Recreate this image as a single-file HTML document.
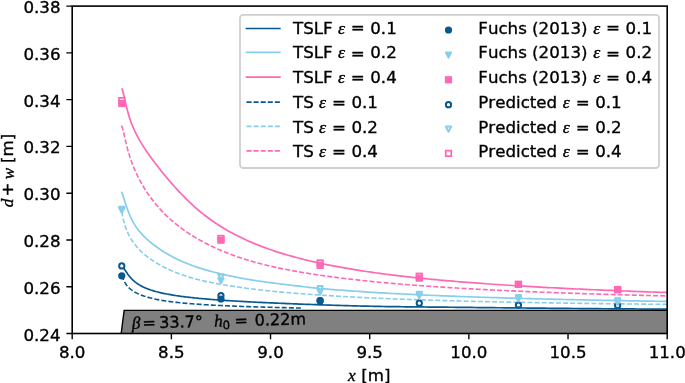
<!DOCTYPE html>
<html><head><meta charset="utf-8"><title>chart</title><style>html,body{margin:0;padding:0;background:#fff;}body{width:685px;height:383px;overflow:hidden;position:relative}</style></head><body>
<svg width="685" height="383" viewBox="0 0 685 383" style="display:block;position:absolute;left:0;top:0">
<rect x="0" y="0" width="685" height="383" fill="#fff"/>
<defs><clipPath id="ax"><rect x="72.2" y="6.1" width="595.0" height="327.4"/></clipPath></defs>
<g clip-path="url(#ax)">
<path d="M120.93,335.5 L124.16,310.41 L672.2,310.41 L672.2,335.5 Z" fill="#808080" stroke="#000" stroke-width="1.4" stroke-linejoin="miter"/>
<path d="M121.90,265.59 L121.90,265.59 L121.91,265.60 L121.93,265.62 L121.96,265.64 L121.99,265.68 L122.04,265.72 L122.09,265.78 L122.16,265.85 L122.24,265.93 L122.33,266.03 L122.43,266.15 L122.54,266.29 L122.66,266.45 L122.79,266.63 L122.94,266.83 L123.10,267.06 L123.27,267.31 L123.45,267.58 L123.65,267.88 L123.86,268.21 L124.08,268.56 L124.32,268.93 L124.56,269.32 L124.82,269.73 L125.10,270.17 L125.39,270.62 L125.69,271.09 L126.01,271.57 L126.33,272.07 L126.68,272.58 L127.04,273.10 L127.41,273.63 L127.79,274.16 L128.19,274.70 L128.61,275.24 L129.04,275.79 L129.48,276.33 L129.94,276.88 L130.41,277.43 L130.90,277.97 L131.40,278.51 L131.92,279.04 L132.45,279.57 L133.00,280.10 L133.56,280.61 L134.14,281.12 L134.73,281.62 L135.34,282.11 L135.96,282.60 L136.60,283.07 L137.26,283.54 L137.93,283.99 L138.61,284.44 L139.31,284.88 L140.03,285.30 L140.76,285.72 L141.51,286.13 L142.28,286.52 L143.06,286.91 L143.85,287.29 L144.67,287.65 L145.50,288.01 L146.34,288.37 L147.20,288.71 L148.08,289.04 L148.98,289.37 L149.89,289.69 L150.81,290.01 L151.76,290.31 L152.72,290.61 L153.70,290.91 L154.69,291.20 L155.70,291.48 L156.73,291.76 L157.77,292.03 L158.83,292.29 L159.91,292.56 L161.00,292.81 L162.11,293.06 L163.24,293.31 L164.39,293.55 L165.55,293.78 L166.73,294.01 L167.93,294.24 L169.14,294.46 L170.37,294.68 L171.62,294.90 L172.89,295.11 L174.17,295.31 L175.47,295.52 L176.79,295.72 L178.13,295.91 L179.48,296.10 L180.85,296.29 L182.24,296.48 L183.64,296.66 L185.07,296.84 L186.51,297.01 L187.97,297.19 L189.45,297.36 L190.94,297.52 L192.45,297.69 L193.98,297.85 L195.53,298.01 L197.10,298.17 L198.68,298.32 L200.29,298.48 L201.91,298.63 L203.55,298.77 L205.20,298.92 L206.88,299.06 L208.57,299.21 L210.28,299.35 L212.01,299.48 L213.76,299.62 L215.53,299.75 L217.31,299.89 L219.12,300.02 L220.94,300.15 L222.78,300.27 L224.64,300.40 L226.51,300.53 L228.41,300.65 L230.32,300.77 L232.26,300.89 L234.21,301.01 L236.18,301.13 L238.17,301.24 L240.18,301.36 L242.20,301.47 L244.25,301.58 L246.31,301.69 L248.40,301.80 L250.50,301.91 L252.62,302.02 L254.76,302.13 L256.92,302.23 L259.09,302.34 L261.29,302.44 L263.51,302.55 L265.74,302.65 L267.99,302.75 L270.27,302.85 L272.56,302.95 L274.87,303.05 L277.20,303.15 L279.55,303.25 L281.92,303.35 L284.31,303.45 L286.72,303.55 L289.14,303.65 L291.59,303.74 L294.06,303.84 L296.54,303.94 L299.05,304.03 L301.57,304.13 L304.11,304.23 L306.68,304.32 L309.26,304.42 L311.86,304.51 L314.48,304.61 L317.12,304.70 L319.79,304.79 L322.47,304.88 L325.17,304.98 L327.89,305.07 L330.63,305.16 L333.39,305.25 L336.16,305.33 L338.96,305.42 L341.78,305.50 L344.62,305.59 L347.48,305.67 L350.36,305.75 L353.26,305.83 L356.18,305.90 L359.11,305.98 L362.07,306.05 L365.05,306.12 L368.05,306.18 L371.07,306.25 L374.11,306.31 L377.17,306.37 L380.24,306.42 L383.34,306.48 L386.46,306.53 L389.60,306.58 L392.76,306.62 L395.94,306.67 L399.14,306.71 L402.36,306.75 L405.60,306.79 L408.86,306.83 L412.14,306.87 L415.45,306.90 L418.77,306.94 L422.11,306.97 L425.47,307.00 L428.86,307.04 L432.26,307.07 L435.68,307.10 L439.13,307.14 L442.59,307.17 L446.08,307.20 L449.59,307.24 L453.11,307.27 L456.66,307.31 L460.23,307.34 L463.82,307.38 L467.43,307.42 L471.06,307.45 L474.71,307.49 L478.38,307.53 L482.07,307.57 L485.79,307.61 L489.52,307.65 L493.27,307.69 L497.05,307.73 L500.85,307.77 L504.66,307.81 L508.50,307.85 L512.36,307.89 L516.24,307.93 L520.14,307.97 L524.06,308.01 L528.01,308.06 L531.97,308.10 L535.95,308.14 L539.96,308.18 L543.99,308.21 L548.03,308.25 L552.10,308.29 L556.19,308.33 L560.30,308.37 L564.44,308.41 L568.59,308.44 L572.77,308.48 L576.96,308.52 L581.18,308.56 L585.42,308.59 L589.68,308.63 L593.96,308.66 L598.26,308.70 L602.58,308.73 L606.93,308.77 L611.29,308.80 L615.68,308.84 L620.09,308.87 L624.52,308.90 L628.97,308.94 L633.44,308.97 L637.94,309.00 L642.45,309.03 L646.99,309.07 L651.55,309.10 L656.13,309.13 L660.73,309.16 L665.36,309.19 L670.00,309.22" fill="none" stroke="#07598f" stroke-width="1.7" stroke-linejoin="round" stroke-linecap="butt"/>
<path d="M121.50,191.75 L121.50,191.76 L121.51,191.78 L121.53,191.81 L121.56,191.86 L121.59,191.93 L121.64,192.02 L121.69,192.13 L121.76,192.28 L121.84,192.45 L121.93,192.66 L122.03,192.90 L122.14,193.18 L122.26,193.50 L122.39,193.87 L122.54,194.29 L122.70,194.75 L122.87,195.26 L123.05,195.83 L123.25,196.44 L123.46,197.10 L123.68,197.81 L123.92,198.57 L124.17,199.37 L124.43,200.21 L124.70,201.09 L124.99,202.01 L125.29,202.96 L125.61,203.94 L125.94,204.94 L126.28,205.97 L126.64,207.02 L127.01,208.08 L127.40,209.16 L127.80,210.25 L128.21,211.34 L128.64,212.43 L129.09,213.53 L129.54,214.63 L130.02,215.72 L130.50,216.81 L131.01,217.88 L131.52,218.95 L132.06,220.01 L132.60,221.06 L133.17,222.09 L133.75,223.11 L134.34,224.11 L134.95,225.09 L135.57,226.06 L136.21,227.01 L136.87,227.94 L137.54,228.86 L138.22,229.77 L138.93,230.66 L139.64,231.54 L140.38,232.41 L141.13,233.27 L141.89,234.12 L142.67,234.96 L143.47,235.80 L144.28,236.62 L145.11,237.44 L145.96,238.25 L146.82,239.05 L147.70,239.85 L148.60,240.64 L149.51,241.42 L150.44,242.20 L151.38,242.98 L152.34,243.75 L153.32,244.51 L154.31,245.27 L155.32,246.03 L156.35,246.78 L157.40,247.52 L158.46,248.27 L159.54,249.00 L160.63,249.74 L161.74,250.46 L162.87,251.19 L164.02,251.91 L165.18,252.62 L166.36,253.33 L167.56,254.03 L168.78,254.73 L170.01,255.42 L171.26,256.11 L172.52,256.79 L173.81,257.46 L175.11,258.13 L176.43,258.78 L177.77,259.43 L179.12,260.07 L180.49,260.71 L181.88,261.33 L183.29,261.95 L184.71,262.55 L186.16,263.15 L187.62,263.74 L189.10,264.32 L190.59,264.89 L192.11,265.45 L193.64,266.01 L195.19,266.55 L196.75,267.09 L198.34,267.61 L199.94,268.13 L201.57,268.64 L203.21,269.15 L204.86,269.64 L206.54,270.13 L208.24,270.61 L209.95,271.08 L211.68,271.55 L213.43,272.00 L215.20,272.46 L216.98,272.91 L218.79,273.35 L220.61,273.78 L222.45,274.21 L224.31,274.64 L226.19,275.06 L228.09,275.47 L230.00,275.88 L231.94,276.29 L233.89,276.69 L235.86,277.08 L237.85,277.47 L239.86,277.86 L241.89,278.24 L243.94,278.61 L246.00,278.98 L248.09,279.34 L250.19,279.70 L252.31,280.04 L254.45,280.39 L256.61,280.72 L258.79,281.05 L260.99,281.37 L263.21,281.69 L265.45,282.00 L267.70,282.31 L269.98,282.61 L272.27,282.90 L274.58,283.20 L276.92,283.49 L279.27,283.78 L281.64,284.07 L284.03,284.36 L286.44,284.65 L288.87,284.95 L291.31,285.25 L293.78,285.54 L296.27,285.84 L298.77,286.13 L301.30,286.43 L303.85,286.72 L306.41,287.00 L309.00,287.29 L311.60,287.56 L314.22,287.83 L316.87,288.10 L319.53,288.35 L322.21,288.60 L324.91,288.85 L327.64,289.09 L330.38,289.32 L333.14,289.55 L335.92,289.78 L338.72,290.00 L341.54,290.22 L344.38,290.43 L347.25,290.64 L350.13,290.85 L353.03,291.06 L355.95,291.26 L358.89,291.46 L361.85,291.66 L364.83,291.85 L367.83,292.04 L370.85,292.23 L373.89,292.42 L376.95,292.60 L380.03,292.78 L383.13,292.96 L386.26,293.14 L389.40,293.31 L392.56,293.48 L395.74,293.65 L398.94,293.82 L402.17,293.98 L405.41,294.15 L408.67,294.31 L411.96,294.47 L415.26,294.62 L418.58,294.78 L421.93,294.93 L425.29,295.08 L428.68,295.23 L432.09,295.37 L435.51,295.52 L438.96,295.66 L442.43,295.80 L445.92,295.94 L449.43,296.08 L452.96,296.21 L456.51,296.35 L460.08,296.48 L463.67,296.61 L467.28,296.74 L470.91,296.87 L474.57,296.99 L478.24,297.12 L481.94,297.24 L485.65,297.36 L489.39,297.48 L493.15,297.60 L496.92,297.71 L500.72,297.83 L504.54,297.94 L508.38,298.05 L512.25,298.17 L516.13,298.28 L520.03,298.38 L523.96,298.49 L527.90,298.60 L531.87,298.70 L535.86,298.80 L539.86,298.91 L543.89,299.01 L547.95,299.11 L552.02,299.20 L556.11,299.30 L560.22,299.40 L564.36,299.49 L568.52,299.59 L572.69,299.68 L576.89,299.77 L581.11,299.86 L585.35,299.95 L589.62,300.04 L593.90,300.13 L598.21,300.21 L602.53,300.30 L606.88,300.38 L611.25,300.47 L615.64,300.55 L620.05,300.63 L624.49,300.71 L628.94,300.79 L633.42,300.87 L637.91,300.95 L642.43,301.03 L646.97,301.10 L651.54,301.18 L656.12,301.26 L660.73,301.33 L665.35,301.40 L670.00,301.47" fill="none" stroke="#87ceeb" stroke-width="1.7" stroke-linejoin="round" stroke-linecap="butt"/>
<path d="M121.70,88.53 L121.70,88.54 L121.71,88.55 L121.73,88.57 L121.76,88.60 L121.79,88.64 L121.84,88.71 L121.89,88.80 L121.96,88.91 L122.04,89.06 L122.13,89.26 L122.23,89.49 L122.34,89.78 L122.46,90.14 L122.59,90.55 L122.74,91.03 L122.90,91.59 L123.07,92.22 L123.25,92.93 L123.45,93.71 L123.66,94.58 L123.88,95.51 L124.12,96.53 L124.36,97.61 L124.63,98.75 L124.90,99.96 L125.19,101.22 L125.49,102.53 L125.81,103.88 L126.14,105.27 L126.48,106.69 L126.84,108.13 L127.21,109.59 L127.60,111.06 L128.00,112.54 L128.41,114.02 L128.84,115.49 L129.28,116.94 L129.74,118.39 L130.21,119.81 L130.70,121.21 L131.20,122.59 L131.72,123.95 L132.25,125.29 L132.80,126.61 L133.36,127.92 L133.94,129.22 L134.53,130.51 L135.14,131.79 L135.77,133.06 L136.41,134.33 L137.06,135.59 L137.73,136.85 L138.42,138.10 L139.12,139.36 L139.84,140.61 L140.57,141.86 L141.32,143.12 L142.08,144.37 L142.87,145.63 L143.66,146.89 L144.48,148.15 L145.31,149.41 L146.15,150.68 L147.01,151.95 L147.89,153.23 L148.79,154.51 L149.70,155.80 L150.63,157.09 L151.57,158.39 L152.53,159.70 L153.51,161.01 L154.50,162.33 L155.51,163.67 L156.54,165.01 L157.58,166.35 L158.64,167.71 L159.72,169.08 L160.82,170.45 L161.93,171.83 L163.06,173.22 L164.20,174.62 L165.37,176.02 L166.55,177.43 L167.74,178.85 L168.96,180.27 L170.19,181.70 L171.44,183.13 L172.71,184.57 L173.99,186.02 L175.29,187.46 L176.61,188.91 L177.95,190.37 L179.30,191.82 L180.67,193.28 L182.06,194.73 L183.47,196.18 L184.89,197.62 L186.33,199.06 L187.79,200.49 L189.27,201.92 L190.77,203.33 L192.28,204.74 L193.81,206.13 L195.36,207.51 L196.93,208.88 L198.51,210.23 L200.12,211.57 L201.74,212.90 L203.38,214.21 L205.03,215.51 L206.71,216.79 L208.40,218.05 L210.12,219.30 L211.85,220.53 L213.60,221.75 L215.36,222.95 L217.15,224.13 L218.95,225.30 L220.77,226.45 L222.62,227.59 L224.47,228.71 L226.35,229.81 L228.25,230.90 L230.16,231.97 L232.10,233.03 L234.05,234.07 L236.02,235.09 L238.01,236.10 L240.02,237.10 L242.05,238.08 L244.09,239.05 L246.16,240.00 L248.24,240.93 L250.34,241.85 L252.47,242.76 L254.61,243.65 L256.77,244.53 L258.94,245.40 L261.14,246.25 L263.36,247.09 L265.59,247.92 L267.85,248.73 L270.12,249.53 L272.41,250.32 L274.73,251.09 L277.06,251.86 L279.41,252.61 L281.78,253.35 L284.17,254.07 L286.58,254.79 L289.00,255.49 L291.45,256.19 L293.92,256.87 L296.40,257.54 L298.91,258.20 L301.44,258.85 L303.98,259.49 L306.54,260.12 L309.13,260.74 L311.73,261.35 L314.35,261.95 L317.00,262.54 L319.66,263.12 L322.34,263.70 L325.04,264.26 L327.76,264.81 L330.50,265.36 L333.26,265.90 L336.04,266.42 L338.84,266.94 L341.66,267.46 L344.50,267.96 L347.36,268.46 L350.24,268.95 L353.14,269.43 L356.06,269.90 L359.00,270.37 L361.96,270.83 L364.94,271.28 L367.94,271.72 L370.96,272.16 L374.00,272.59 L377.06,273.02 L380.14,273.44 L383.24,273.85 L386.36,274.25 L389.50,274.65 L392.66,275.05 L395.84,275.43 L399.04,275.82 L402.26,276.19 L405.51,276.56 L408.77,276.93 L412.05,277.29 L415.35,277.64 L418.68,277.99 L422.02,278.33 L425.38,278.67 L428.77,279.00 L432.17,279.33 L435.60,279.66 L439.05,279.98 L442.51,280.29 L446.00,280.60 L449.51,280.91 L453.03,281.21 L456.58,281.51 L460.15,281.80 L463.74,282.09 L467.35,282.37 L470.99,282.65 L474.64,282.93 L478.31,283.20 L482.00,283.47 L485.72,283.74 L489.45,284.00 L493.21,284.26 L496.99,284.52 L500.78,284.77 L504.60,285.02 L508.44,285.26 L512.30,285.50 L516.18,285.74 L520.09,285.98 L524.01,286.21 L527.95,286.44 L531.92,286.67 L535.91,286.89 L539.91,287.11 L543.94,287.33 L547.99,287.54 L552.06,287.76 L556.15,287.97 L560.26,288.17 L564.40,288.38 L568.55,288.58 L572.73,288.78 L576.93,288.98 L581.15,289.17 L585.39,289.36 L589.65,289.55 L593.93,289.74 L598.23,289.93 L602.56,290.11 L606.90,290.29 L611.27,290.47 L615.66,290.65 L620.07,290.82 L624.50,290.99 L628.96,291.16 L633.43,291.33 L637.93,291.50 L642.44,291.66 L646.98,291.82 L651.54,291.98 L656.12,292.14 L660.73,292.30 L665.35,292.45 L670.00,292.61" fill="none" stroke="#ff69b4" stroke-width="1.7" stroke-linejoin="round" stroke-linecap="butt"/>
<path d="M121.90,275.27 L121.90,275.28 L121.91,275.32 L121.93,275.38 L121.96,275.47 L121.99,275.59 L122.04,275.74 L122.09,275.93 L122.16,276.14 L122.24,276.38 L122.33,276.66 L122.43,276.95 L122.54,277.28 L122.66,277.63 L122.79,277.99 L122.94,278.38 L123.10,278.79 L123.27,279.21 L123.45,279.64 L123.65,280.08 L123.86,280.53 L124.08,280.99 L124.32,281.46 L124.56,281.92 L124.82,282.39 L125.10,282.86 L125.39,283.33 L125.69,283.80 L126.01,284.26 L126.33,284.72 L126.68,285.18 L127.04,285.63 L127.41,286.08 L127.79,286.52 L128.19,286.96 L128.61,287.39 L129.04,287.81 L129.48,288.23 L129.94,288.64 L130.41,289.04 L130.90,289.44 L131.40,289.83 L131.92,290.21 L132.45,290.58 L133.00,290.95 L133.56,291.31 L134.14,291.67 L134.73,292.02 L135.34,292.36 L135.96,292.70 L136.60,293.03 L137.26,293.36 L137.93,293.67 L138.61,293.99 L139.31,294.30 L140.03,294.60 L140.76,294.90 L141.51,295.19 L142.28,295.48 L143.06,295.76 L143.85,296.04 L144.67,296.31 L145.50,296.58 L146.34,296.84 L147.20,297.10 L148.08,297.36 L148.98,297.61 L149.89,297.85 L150.81,298.09 L151.76,298.33 L152.72,298.56 L153.70,298.79 L154.69,299.01 L155.70,299.23 L156.73,299.44 L157.77,299.65 L158.83,299.85 L159.91,300.05 L161.00,300.24 L162.11,300.43 L163.24,300.62 L164.39,300.80 L165.55,300.98 L166.73,301.15 L167.93,301.32 L169.14,301.49 L170.37,301.65 L171.62,301.81 L172.89,301.96 L174.17,302.11 L175.47,302.26 L176.79,302.41 L178.13,302.55 L179.48,302.69 L180.85,302.82 L182.24,302.96 L183.64,303.09 L185.07,303.22 L186.51,303.34 L187.97,303.47 L189.45,303.59 L190.94,303.71 L192.45,303.82 L193.98,303.94 L195.53,304.05 L197.10,304.16 L198.68,304.27 L200.29,304.38 L201.91,304.48 L203.55,304.59 L205.20,304.69 L206.88,304.79 L208.57,304.89 L210.28,304.99 L212.01,305.08 L213.76,305.18 L215.53,305.27 L217.31,305.36 L219.12,305.45 L220.94,305.54 L222.78,305.63 L224.64,305.71 L226.51,305.80 L228.41,305.88 L230.32,305.96 L232.26,306.04 L234.21,306.12 L236.18,306.20 L238.17,306.28 L240.18,306.36 L242.20,306.43 L244.25,306.50 L246.31,306.58 L248.40,306.65 L250.50,306.72 L252.62,306.79 L254.76,306.86 L256.92,306.93 L259.09,306.99 L261.29,307.06 L263.51,307.12 L265.74,307.19 L267.99,307.25 L270.27,307.31 L272.56,307.37 L274.87,307.43 L277.20,307.49 L279.55,307.55 L281.92,307.61 L284.31,307.67 L286.72,307.72 L289.14,307.78 L291.59,307.83 L294.06,307.89 L296.54,307.94 L299.05,308.00 L301.57,308.05" fill="none" stroke="#07598f" stroke-width="1.6" stroke-linejoin="round" stroke-dasharray="5.0 2.1"/>
<path d="M121.70,211.49 L121.70,211.51 L121.71,211.56 L121.73,211.67 L121.76,211.83 L121.79,212.04 L121.84,212.31 L121.89,212.63 L121.96,213.01 L122.04,213.44 L122.13,213.92 L122.23,214.44 L122.34,215.02 L122.46,215.63 L122.59,216.29 L122.74,216.98 L122.90,217.71 L123.07,218.46 L123.25,219.24 L123.45,220.05 L123.66,220.87 L123.88,221.71 L124.12,222.57 L124.36,223.43 L124.63,224.31 L124.90,225.19 L125.19,226.08 L125.49,226.97 L125.81,227.86 L126.14,228.75 L126.48,229.65 L126.84,230.53 L127.21,231.42 L127.60,232.30 L128.00,233.18 L128.41,234.06 L128.84,234.92 L129.28,235.78 L129.74,236.64 L130.21,237.49 L130.70,238.33 L131.20,239.16 L131.72,239.99 L132.25,240.81 L132.80,241.62 L133.36,242.42 L133.94,243.22 L134.53,244.01 L135.14,244.80 L135.77,245.58 L136.41,246.35 L137.06,247.11 L137.73,247.87 L138.42,248.62 L139.12,249.36 L139.84,250.10 L140.57,250.83 L141.32,251.56 L142.08,252.28 L142.87,252.99 L143.66,253.70 L144.48,254.40 L145.31,255.09 L146.15,255.78 L147.01,256.47 L147.89,257.14 L148.79,257.82 L149.70,258.48 L150.63,259.14 L151.57,259.80 L152.53,260.45 L153.51,261.09 L154.50,261.73 L155.51,262.36 L156.54,262.99 L157.58,263.61 L158.64,264.23 L159.72,264.84 L160.82,265.45 L161.93,266.05 L163.06,266.64 L164.20,267.23 L165.37,267.81 L166.55,268.39 L167.74,268.96 L168.96,269.53 L170.19,270.09 L171.44,270.64 L172.71,271.19 L173.99,271.73 L175.29,272.26 L176.61,272.78 L177.95,273.30 L179.30,273.81 L180.67,274.32 L182.06,274.81 L183.47,275.30 L184.89,275.78 L186.33,276.25 L187.79,276.71 L189.27,277.16 L190.77,277.61 L192.28,278.05 L193.81,278.47 L195.36,278.89 L196.93,279.30 L198.51,279.71 L200.12,280.10 L201.74,280.49 L203.38,280.87 L205.03,281.24 L206.71,281.61 L208.40,281.96 L210.12,282.31 L211.85,282.66 L213.60,283.00 L215.36,283.33 L217.15,283.66 L218.95,283.99 L220.77,284.31 L222.62,284.62 L224.47,284.93 L226.35,285.24 L228.25,285.55 L230.16,285.85 L232.10,286.15 L234.05,286.45 L236.02,286.74 L238.01,287.04 L240.02,287.32 L242.05,287.61 L244.09,287.89 L246.16,288.17 L248.24,288.45 L250.34,288.72 L252.47,288.99 L254.61,289.25 L256.77,289.51 L258.94,289.77 L261.14,290.02 L263.36,290.27 L265.59,290.51 L267.85,290.75 L270.12,290.98 L272.41,291.21 L274.73,291.44 L277.06,291.66 L279.41,291.88 L281.78,292.10 L284.17,292.31 L286.58,292.52 L289.00,292.73 L291.45,292.94 L293.92,293.14 L296.40,293.34 L298.91,293.54 L301.44,293.73 L303.98,293.93 L306.54,294.12 L309.13,294.31 L311.73,294.49 L314.35,294.68 L317.00,294.86 L319.66,295.04 L322.34,295.22 L325.04,295.40 L327.76,295.57 L330.50,295.74 L333.26,295.91 L336.04,296.08 L338.84,296.24 L341.66,296.41 L344.50,296.57 L347.36,296.72 L350.24,296.88 L353.14,297.03 L356.06,297.18 L359.00,297.33 L361.96,297.48 L364.94,297.62 L367.94,297.77 L370.96,297.91 L374.00,298.04 L377.06,298.18 L380.14,298.31 L383.24,298.44 L386.36,298.57 L389.50,298.70 L392.66,298.83 L395.84,298.95 L399.04,299.07 L402.26,299.20 L405.51,299.31 L408.77,299.43 L412.05,299.55 L415.35,299.66 L418.68,299.77 L422.02,299.88 L425.38,299.99 L428.77,300.10 L432.17,300.20 L435.60,300.31 L439.05,300.41 L442.51,300.51 L446.00,300.61 L449.51,300.71 L453.03,300.81 L456.58,300.90 L460.15,301.00 L463.74,301.09 L467.35,301.18 L470.99,301.27 L474.64,301.36 L478.31,301.45 L482.00,301.53 L485.72,301.62 L489.45,301.70 L493.21,301.78 L496.99,301.87 L500.78,301.95 L504.60,302.03 L508.44,302.10 L512.30,302.18 L516.18,302.26 L520.09,302.33 L524.01,302.41 L527.95,302.48 L531.92,302.55 L535.91,302.62 L539.91,302.69 L543.94,302.76 L547.99,302.83 L552.06,302.90 L556.15,302.96 L560.26,303.03 L564.40,303.09 L568.55,303.16 L572.73,303.22 L576.93,303.28 L581.15,303.34 L585.39,303.40 L589.65,303.46 L593.93,303.52 L598.23,303.58 L602.56,303.64 L606.90,303.69 L611.27,303.75 L615.66,303.80 L620.07,303.86 L624.50,303.91 L628.96,303.96 L633.43,304.02 L637.93,304.07 L642.44,304.12 L646.98,304.17 L651.54,304.22 L656.12,304.27 L660.73,304.32 L665.35,304.36 L670.00,304.41" fill="none" stroke="#87ceeb" stroke-width="1.6" stroke-linejoin="round" stroke-dasharray="5.0 2.1"/>
<path d="M121.50,125.79 L121.50,125.80 L121.51,125.81 L121.53,125.82 L121.56,125.85 L121.59,125.90 L121.64,125.96 L121.69,126.04 L121.76,126.16 L121.84,126.30 L121.93,126.49 L122.03,126.72 L122.14,127.01 L122.26,127.36 L122.39,127.77 L122.54,128.26 L122.70,128.81 L122.87,129.44 L123.05,130.15 L123.25,130.94 L123.46,131.81 L123.68,132.75 L123.92,133.77 L124.17,134.85 L124.43,136.01 L124.70,137.22 L124.99,138.49 L125.29,139.81 L125.61,141.17 L125.94,142.57 L126.28,144.00 L126.64,145.46 L127.01,146.93 L127.40,148.42 L127.80,149.92 L128.21,151.41 L128.64,152.91 L129.09,154.39 L129.54,155.87 L130.02,157.34 L130.50,158.81 L131.01,160.26 L131.52,161.71 L132.06,163.16 L132.60,164.59 L133.17,166.03 L133.75,167.45 L134.34,168.87 L134.95,170.28 L135.57,171.69 L136.21,173.09 L136.87,174.48 L137.54,175.87 L138.22,177.26 L138.93,178.63 L139.64,180.01 L140.38,181.37 L141.13,182.73 L141.89,184.09 L142.67,185.44 L143.47,186.78 L144.28,188.12 L145.11,189.45 L145.96,190.77 L146.82,192.09 L147.70,193.40 L148.60,194.71 L149.51,196.01 L150.44,197.30 L151.38,198.58 L152.34,199.85 L153.32,201.11 L154.31,202.37 L155.32,203.62 L156.35,204.86 L157.40,206.08 L158.46,207.30 L159.54,208.51 L160.63,209.72 L161.74,210.91 L162.87,212.09 L164.02,213.26 L165.18,214.42 L166.36,215.57 L167.56,216.72 L168.78,217.85 L170.01,218.97 L171.26,220.08 L172.52,221.18 L173.81,222.27 L175.11,223.35 L176.43,224.42 L177.77,225.48 L179.12,226.53 L180.49,227.57 L181.88,228.60 L183.29,229.62 L184.71,230.63 L186.16,231.63 L187.62,232.62 L189.10,233.60 L190.59,234.56 L192.11,235.52 L193.64,236.47 L195.19,237.41 L196.75,238.34 L198.34,239.26 L199.94,240.17 L201.57,241.07 L203.21,241.96 L204.86,242.84 L206.54,243.71 L208.24,244.57 L209.95,245.42 L211.68,246.26 L213.43,247.09 L215.20,247.91 L216.98,248.72 L218.79,249.52 L220.61,250.31 L222.45,251.08 L224.31,251.85 L226.19,252.61 L228.09,253.35 L230.00,254.09 L231.94,254.81 L233.89,255.53 L235.86,256.23 L237.85,256.93 L239.86,257.61 L241.89,258.28 L243.94,258.94 L246.00,259.59 L248.09,260.23 L250.19,260.86 L252.31,261.48 L254.45,262.09 L256.61,262.69 L258.79,263.28 L260.99,263.85 L263.21,264.42 L265.45,264.98 L267.70,265.52 L269.98,266.06 L272.27,266.59 L274.58,267.11 L276.92,267.62 L279.27,268.12 L281.64,268.61 L284.03,269.09 L286.44,269.57 L288.87,270.04 L291.31,270.50 L293.78,270.95 L296.27,271.39 L298.77,271.83 L301.30,272.27 L303.85,272.69 L306.41,273.11 L309.00,273.53 L311.60,273.94 L314.22,274.34 L316.87,274.74 L319.53,275.13 L322.21,275.52 L324.91,275.90 L327.64,276.28 L330.38,276.65 L333.14,277.02 L335.92,277.38 L338.72,277.74 L341.54,278.09 L344.38,278.44 L347.25,278.79 L350.13,279.13 L353.03,279.46 L355.95,279.79 L358.89,280.12 L361.85,280.44 L364.83,280.76 L367.83,281.07 L370.85,281.38 L373.89,281.68 L376.95,281.98 L380.03,282.28 L383.13,282.57 L386.26,282.86 L389.40,283.14 L392.56,283.42 L395.74,283.69 L398.94,283.96 L402.17,284.23 L405.41,284.49 L408.67,284.75 L411.96,285.01 L415.26,285.26 L418.58,285.51 L421.93,285.76 L425.29,286.00 L428.68,286.24 L432.09,286.47 L435.51,286.70 L438.96,286.93 L442.43,287.16 L445.92,287.38 L449.43,287.60 L452.96,287.82 L456.51,288.03 L460.08,288.24 L463.67,288.45 L467.28,288.65 L470.91,288.86 L474.57,289.05 L478.24,289.25 L481.94,289.45 L485.65,289.64 L489.39,289.83 L493.15,290.01 L496.92,290.20 L500.72,290.38 L504.54,290.56 L508.38,290.73 L512.25,290.91 L516.13,291.08 L520.03,291.25 L523.96,291.42 L527.90,291.58 L531.87,291.74 L535.86,291.91 L539.86,292.06 L543.89,292.22 L547.95,292.38 L552.02,292.53 L556.11,292.68 L560.22,292.83 L564.36,292.98 L568.52,293.12 L572.69,293.27 L576.89,293.41 L581.11,293.55 L585.35,293.68 L589.62,293.82 L593.90,293.96 L598.21,294.09 L602.53,294.22 L606.88,294.35 L611.25,294.48 L615.64,294.60 L620.05,294.73 L624.49,294.85 L628.94,294.97 L633.42,295.10 L637.91,295.21 L642.43,295.33 L646.97,295.45 L651.54,295.56 L656.12,295.68 L660.73,295.79 L665.35,295.90 L670.00,296.01" fill="none" stroke="#ff69b4" stroke-width="1.6" stroke-linejoin="round" stroke-dasharray="5.0 2.1"/>
<circle cx="121.78" cy="265.90" r="2.62" fill="#fff" stroke="#07598f" stroke-width="2.0"/>
<circle cx="220.95" cy="295.70" r="2.62" fill="#fff" stroke="#07598f" stroke-width="2.0"/>
<circle cx="320.12" cy="300.70" r="2.62" fill="#fff" stroke="#07598f" stroke-width="2.0"/>
<circle cx="419.28" cy="303.20" r="2.62" fill="#fff" stroke="#07598f" stroke-width="2.0"/>
<circle cx="518.45" cy="305.00" r="2.62" fill="#fff" stroke="#07598f" stroke-width="2.0"/>
<circle cx="617.62" cy="305.60" r="2.62" fill="#fff" stroke="#07598f" stroke-width="2.0"/>
<circle cx="121.78" cy="275.80" r="2.62" fill="#07598f" stroke="#07598f" stroke-width="2.0"/>
<circle cx="220.95" cy="299.00" r="2.62" fill="#07598f" stroke="#07598f" stroke-width="2.0"/>
<circle cx="320.12" cy="300.70" r="2.62" fill="#07598f" stroke="#07598f" stroke-width="2.0"/>
<path d="M119.16,206.78 L124.40,206.78 L121.78,212.02 Z" fill="#fff" stroke="#87ceeb" stroke-width="2.0" stroke-linejoin="round"/>
<path d="M218.33,274.48 L223.57,274.48 L220.95,279.72 Z" fill="#fff" stroke="#87ceeb" stroke-width="2.0" stroke-linejoin="round"/>
<path d="M317.50,285.88 L322.74,285.88 L320.12,291.12 Z" fill="#fff" stroke="#87ceeb" stroke-width="2.0" stroke-linejoin="round"/>
<path d="M416.66,291.78 L421.90,291.78 L419.28,297.02 Z" fill="#fff" stroke="#87ceeb" stroke-width="2.0" stroke-linejoin="round"/>
<path d="M515.83,295.08 L521.07,295.08 L518.45,300.32 Z" fill="#fff" stroke="#87ceeb" stroke-width="2.0" stroke-linejoin="round"/>
<path d="M615.00,298.28 L620.24,298.28 L617.62,303.52 Z" fill="#fff" stroke="#87ceeb" stroke-width="2.0" stroke-linejoin="round"/>
<path d="M119.16,207.68 L124.40,207.68 L121.78,212.92 Z" fill="#87ceeb" stroke="#87ceeb" stroke-width="2.0" stroke-linejoin="round"/>
<path d="M218.33,278.18 L223.57,278.18 L220.95,283.42 Z" fill="#87ceeb" stroke="#87ceeb" stroke-width="2.0" stroke-linejoin="round"/>
<path d="M317.50,289.48 L322.74,289.48 L320.12,294.72 Z" fill="#87ceeb" stroke="#87ceeb" stroke-width="2.0" stroke-linejoin="round"/>
<path d="M416.66,293.18 L421.90,293.18 L419.28,298.42 Z" fill="#87ceeb" stroke="#87ceeb" stroke-width="2.0" stroke-linejoin="round"/>
<path d="M515.83,296.28 L521.07,296.28 L518.45,301.52 Z" fill="#87ceeb" stroke="#87ceeb" stroke-width="2.0" stroke-linejoin="round"/>
<path d="M615.00,300.18 L620.24,300.18 L617.62,305.42 Z" fill="#87ceeb" stroke="#87ceeb" stroke-width="2.0" stroke-linejoin="round"/>
<rect x="119.03" y="97.85" width="5.5" height="5.5" fill="#fff" stroke="#ff69b4" stroke-width="1.75" stroke-linejoin="miter"/>
<rect x="218.20" y="235.65" width="5.5" height="5.5" fill="#fff" stroke="#ff69b4" stroke-width="1.75" stroke-linejoin="miter"/>
<rect x="317.37" y="260.15" width="5.5" height="5.5" fill="#fff" stroke="#ff69b4" stroke-width="1.75" stroke-linejoin="miter"/>
<rect x="416.53" y="273.45" width="5.5" height="5.5" fill="#fff" stroke="#ff69b4" stroke-width="1.75" stroke-linejoin="miter"/>
<rect x="515.70" y="281.65" width="5.5" height="5.5" fill="#fff" stroke="#ff69b4" stroke-width="1.75" stroke-linejoin="miter"/>
<rect x="614.87" y="286.85" width="5.5" height="5.5" fill="#fff" stroke="#ff69b4" stroke-width="1.75" stroke-linejoin="miter"/>
<rect x="119.16" y="100.88" width="5.24" height="5.24" fill="#ff69b4" stroke="#ff69b4" stroke-width="2.0" stroke-linejoin="miter"/>
<rect x="218.33" y="237.58" width="5.24" height="5.24" fill="#ff69b4" stroke="#ff69b4" stroke-width="2.0" stroke-linejoin="miter"/>
<rect x="317.50" y="262.68" width="5.24" height="5.24" fill="#ff69b4" stroke="#ff69b4" stroke-width="2.0" stroke-linejoin="miter"/>
<rect x="416.66" y="275.48" width="5.24" height="5.24" fill="#ff69b4" stroke="#ff69b4" stroke-width="2.0" stroke-linejoin="miter"/>
<rect x="515.83" y="281.78" width="5.24" height="5.24" fill="#ff69b4" stroke="#ff69b4" stroke-width="2.0" stroke-linejoin="miter"/>
<rect x="615.00" y="286.98" width="5.24" height="5.24" fill="#ff69b4" stroke="#ff69b4" stroke-width="2.0" stroke-linejoin="miter"/>
</g>
<rect x="72.2" y="6.1" width="595.0" height="327.4" fill="none" stroke="#000" stroke-width="1.6"/>
<path d="M72.20,333.5 V339.33 M171.37,333.5 V339.33 M270.53,333.5 V339.33 M369.70,333.5 V339.33 M468.87,333.5 V339.33 M568.03,333.5 V339.33 M667.20,333.5 V339.33 M72.2,333.50 H66.37 M72.2,286.73 H66.37 M72.2,239.96 H66.37 M72.2,193.19 H66.37 M72.2,146.41 H66.37 M72.2,99.64 H66.37 M72.2,52.87 H66.37 M72.2,6.10 H66.37" stroke="#000" stroke-width="1.4" fill="none"/>
<g font-family='"DejaVu Sans","Liberation Sans",sans-serif' font-size="16.67" fill="#000" stroke="#000" stroke-width="0.35" style="font-kerning:none">
<text x="72.20" y="358.4" text-anchor="middle">8.0</text>
<text x="171.37" y="358.4" text-anchor="middle">8.5</text>
<text x="270.53" y="358.4" text-anchor="middle">9.0</text>
<text x="369.70" y="358.4" text-anchor="middle">9.5</text>
<text x="468.87" y="358.4" text-anchor="middle">10.0</text>
<text x="568.03" y="358.4" text-anchor="middle">10.5</text>
<text x="667.20" y="358.4" text-anchor="middle">11.0</text>
<text x="60.5" y="340.80" text-anchor="end">0.24</text>
<text x="60.5" y="293.63" text-anchor="end">0.26</text>
<text x="60.5" y="246.86" text-anchor="end">0.28</text>
<text x="60.5" y="200.09" text-anchor="end">0.30</text>
<text x="60.5" y="153.31" text-anchor="end">0.32</text>
<text x="60.5" y="106.54" text-anchor="end">0.34</text>
<text x="60.5" y="59.77" text-anchor="end">0.36</text>
<text x="60.5" y="13.00" text-anchor="end">0.38</text>
<text x="347.9" y="380.9"><tspan font-family='"Liberation Serif","DejaVu Serif",serif' font-style="italic" font-size="17.2">x</tspan> <tspan x="361.3">[m]</tspan></text>
<g transform="translate(13.0,0) rotate(-90)">
<text x="-207.3" y="0"><tspan font-family='"Liberation Serif","DejaVu Serif",serif' font-style="italic" font-size="17.2">d</tspan> <tspan x="-196.4">+</tspan> <tspan x="-179.2" y="0.6" font-family='"Liberation Serif","DejaVu Serif",serif' font-style="italic" font-size="17.2">w</tspan> <tspan x="-163.05" y="0">[m]</tspan></text>
</g>
<g transform="translate(131.9,328.8) rotate(-1.45)" font-size="16.1">
<text x="0" y="0"><tspan font-family='"Liberation Serif","DejaVu Serif",serif' font-style="italic" font-size="17.2">β</tspan> <tspan x="10.5">=</tspan> <tspan x="27.3">33.7°</tspan> <tspan x="82.5" font-family='"Liberation Serif","DejaVu Serif",serif' font-style="italic" font-size="17.2">h</tspan><tspan x="90.7" y="2.7" font-size="11.6">0</tspan> <tspan x="102.6" y="0">=</tspan> <tspan x="122.9">0.22m</tspan></text>
</g>
<rect x="240.0" y="14.8" width="419.0" height="153.2" rx="3.3" ry="3.3" fill="#fff" fill-opacity="0.8" stroke="#cccccc" stroke-opacity="0.95" stroke-width="1.8"/>
<path d="M246.5,28.50 H279.85" stroke="#07598f" stroke-width="1.7" stroke-linecap="square" fill="none"/>
<text x="293.05" y="34.00"><tspan>TSLF </tspan><tspan x="337.90" y="33.50" font-family='"Liberation Serif","DejaVu Serif",serif' font-style="italic" font-size="15.7" textLength="6.99" lengthAdjust="spacingAndGlyphs">ε</tspan> <tspan x="350.80" y="33.00">=</tspan> <tspan x="370.27" y="34.00">0.1</tspan></text>
<path d="M246.5,52.40 H279.85" stroke="#87ceeb" stroke-width="1.7" stroke-linecap="square" fill="none"/>
<text x="293.05" y="58.00"><tspan>TSLF </tspan><tspan x="337.90" y="57.50" font-family='"Liberation Serif","DejaVu Serif",serif' font-style="italic" font-size="15.7" textLength="6.99" lengthAdjust="spacingAndGlyphs">ε</tspan> <tspan x="350.80" y="59.00">=</tspan> <tspan x="370.27" y="58.00">0.2</tspan></text>
<path d="M246.5,77.20 H279.85" stroke="#ff69b4" stroke-width="1.7" stroke-linecap="square" fill="none"/>
<text x="293.05" y="83.00"><tspan>TSLF </tspan><tspan x="337.90" y="82.50" font-family='"Liberation Serif","DejaVu Serif",serif' font-style="italic" font-size="15.7" textLength="6.99" lengthAdjust="spacingAndGlyphs">ε</tspan> <tspan x="350.80" y="83.00">=</tspan> <tspan x="370.27" y="83.00">0.4</tspan></text>
<path d="M246.5,102.10 H279.85" stroke="#07598f" stroke-width="1.6" stroke-dasharray="5.0 2.1" fill="none"/>
<text x="293.05" y="108.00"><tspan>TS </tspan><tspan x="319.03" y="107.50" font-family='"Liberation Serif","DejaVu Serif",serif' font-style="italic" font-size="15.7" textLength="6.99" lengthAdjust="spacingAndGlyphs">ε</tspan> <tspan x="331.93" y="108.00">=</tspan> <tspan x="351.40" y="108.00">0.1</tspan></text>
<path d="M246.5,126.40 H279.85" stroke="#87ceeb" stroke-width="1.6" stroke-dasharray="5.0 2.1" fill="none"/>
<text x="293.05" y="133.00"><tspan>TS </tspan><tspan x="319.03" y="132.50" font-family='"Liberation Serif","DejaVu Serif",serif' font-style="italic" font-size="15.7" textLength="6.99" lengthAdjust="spacingAndGlyphs">ε</tspan> <tspan x="331.93" y="133.00">=</tspan> <tspan x="351.40" y="133.00">0.2</tspan></text>
<path d="M246.5,150.90 H279.85" stroke="#ff69b4" stroke-width="1.6" stroke-dasharray="5.0 2.1" fill="none"/>
<text x="293.05" y="157.00"><tspan>TS </tspan><tspan x="319.03" y="156.50" font-family='"Liberation Serif","DejaVu Serif",serif' font-style="italic" font-size="15.7" textLength="6.99" lengthAdjust="spacingAndGlyphs">ε</tspan> <tspan x="331.93" y="157.00">=</tspan> <tspan x="351.40" y="157.00">0.4</tspan></text>
<circle cx="448.50" cy="30.00" r="2.62" fill="#07598f" stroke="#07598f" stroke-width="2.0"/>
<text x="478.30" y="34.00"><tspan>Fuchs (2013) </tspan><tspan x="593.19" y="33.50" font-family='"Liberation Serif","DejaVu Serif",serif' font-style="italic" font-size="15.7" textLength="6.99" lengthAdjust="spacingAndGlyphs">ε</tspan> <tspan x="606.09" y="33.00">=</tspan> <tspan x="625.56" y="34.00">0.1</tspan></text>
<path d="M445.88,52.38 L451.12,52.38 L448.50,57.62 Z" fill="#87ceeb" stroke="#87ceeb" stroke-width="2.0" stroke-linejoin="round"/>
<text x="478.30" y="58.00"><tspan>Fuchs (2013) </tspan><tspan x="593.19" y="57.50" font-family='"Liberation Serif","DejaVu Serif",serif' font-style="italic" font-size="15.7" textLength="6.99" lengthAdjust="spacingAndGlyphs">ε</tspan> <tspan x="606.09" y="59.00">=</tspan> <tspan x="625.56" y="58.00">0.2</tspan></text>
<rect x="445.88" y="77.18" width="5.24" height="5.24" fill="#ff69b4" stroke="#ff69b4" stroke-width="2.0" stroke-linejoin="miter"/>
<text x="478.30" y="83.00"><tspan>Fuchs (2013) </tspan><tspan x="593.19" y="82.50" font-family='"Liberation Serif","DejaVu Serif",serif' font-style="italic" font-size="15.7" textLength="6.99" lengthAdjust="spacingAndGlyphs">ε</tspan> <tspan x="606.09" y="83.00">=</tspan> <tspan x="625.56" y="83.00">0.4</tspan></text>
<circle cx="448.50" cy="104.70" r="2.62" fill="#fff" stroke="#07598f" stroke-width="2.0"/>
<text x="478.30" y="108.00"><tspan>Predicted </tspan><tspan x="562.82" y="107.50" font-family='"Liberation Serif","DejaVu Serif",serif' font-style="italic" font-size="15.7" textLength="6.99" lengthAdjust="spacingAndGlyphs">ε</tspan> <tspan x="575.72" y="108.00">=</tspan> <tspan x="595.19" y="108.00">0.1</tspan></text>
<path d="M445.88,126.58 L451.12,126.58 L448.50,131.82 Z" fill="#fff" stroke="#87ceeb" stroke-width="2.0" stroke-linejoin="round"/>
<text x="478.30" y="133.00"><tspan>Predicted </tspan><tspan x="562.82" y="132.50" font-family='"Liberation Serif","DejaVu Serif",serif' font-style="italic" font-size="15.7" textLength="6.99" lengthAdjust="spacingAndGlyphs">ε</tspan> <tspan x="575.72" y="133.00">=</tspan> <tspan x="595.19" y="133.00">0.2</tspan></text>
<rect x="445.75" y="150.65" width="5.5" height="5.5" fill="#fff" stroke="#ff69b4" stroke-width="1.75" stroke-linejoin="miter"/>
<text x="478.30" y="157.00"><tspan>Predicted </tspan><tspan x="562.82" y="156.50" font-family='"Liberation Serif","DejaVu Serif",serif' font-style="italic" font-size="15.7" textLength="6.99" lengthAdjust="spacingAndGlyphs">ε</tspan> <tspan x="575.72" y="157.00">=</tspan> <tspan x="595.19" y="157.00">0.4</tspan></text>
</g>
</svg>
</body></html>
